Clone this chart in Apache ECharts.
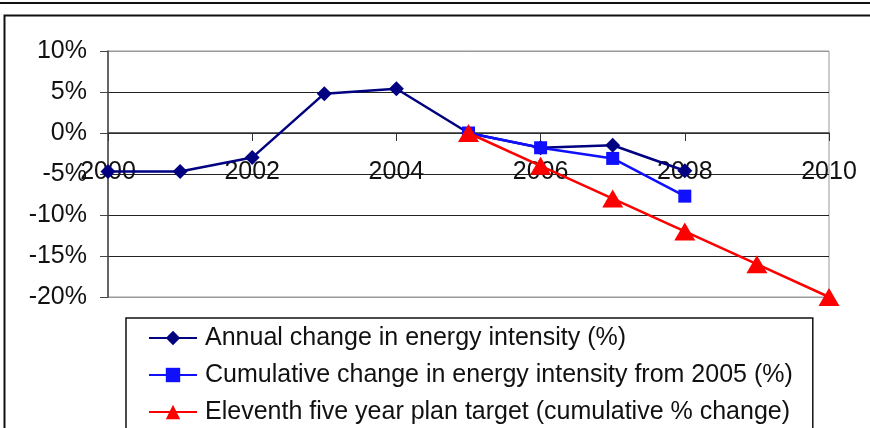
<!DOCTYPE html>
<html>
<head>
<meta charset="utf-8">
<script src="https://cdn.jsdelivr.net/npm/echarts@6/dist/echarts.min.js"></script>
<style>
html,body{margin:0;padding:0;background:#fff;}
#chart{width:870px;height:428px;}
</style>
</head>
<body>
<div id="chart"></div>
<script>
const years = [2000, 2001, 2002, 2003, 2004, 2005, 2006, 2007, 2008, 2009, 2010];
const annualChange = [-4.7, -4.7, -3.0, 4.8, 5.4, 0.0, -1.8, -1.5, -4.6];
const cumulativeYears = [2005, 2006, 2007, 2008];
const cumulativeChange = [0.0, -1.8, -3.1, -7.7];
const targetYears = [2005, 2006, 2007, 2008, 2009, 2010];
const targetChange = [0, -4, -8, -12, -16, -20];
const seriesNames = [
  'Annual change in energy intensity (%)',
  'Cumulative change in energy intensity from 2005 (%)',
  'Eleventh five year plan target (cumulative % change)'
];

const font = '"Liberation Sans", Arial, sans-serif';
const chart = echarts.init(document.getElementById('chart'), null, {renderer: 'canvas'});
chart.setOption({
  animation: false,
  backgroundColor: '#fff',
  textStyle: {fontFamily: font},
  graphic: [
    {type: 'line', shape: {x1: 0, y1: 3, x2: 870, y2: 3}, style: {stroke: '#111', lineWidth: 2}},
    {type: 'polyline', shape: {points: [[4.5, 428], [4.5, 15.5], [870, 15.5]]}, style: {stroke: '#111', lineWidth: 2, fill: null}}
  ],
  grid: {left: 108, right: 41, top: 51, bottom: 131, show: true, borderColor: '#999', borderWidth: 1, containLabel: false},
  xAxis: {
    type: 'value', min: 2000, max: 2010, interval: 2,
    axisLine: {show: true, onZero: true, lineStyle: {color: '#333', width: 1.5}},
    axisTick: {show: true, length: 8, lineStyle: {color: '#333'}},
    axisLabel: {color: '#111', fontSize: 25, margin: -137, fontFamily: font, formatter: v => String(v)},
    splitLine: {show: false}
  },
  yAxis: {
    type: 'value', min: -20, max: 10, interval: 5,
    axisLine: {show: true, lineStyle: {color: '#444', width: 1.5}},
    axisTick: {show: true, length: 8, lineStyle: {color: '#444'}},
    axisLabel: {color: '#111', fontSize: 25, margin: 21, fontFamily: font, formatter: '{value}%'},
    splitLine: {show: true, lineStyle: {color: ['#999', '#222', '#222', '#222', '#222', '#222', '#999'], width: 1.2}}
  },
  legend: {
    orient: 'vertical', left: 126, top: 318, height: 300,
    padding: [7, 20, 8, 22],
    itemWidth: 48, itemHeight: 18, itemGap: 11,
    borderColor: '#111', borderWidth: 1.5,
    textStyle: {fontSize: 25, color: '#111', fontFamily: font, lineHeight: 26, padding: [0, 0, 0, 3]},
    data: seriesNames
  },
  series: [
    {
      name: seriesNames[0], type: 'line',
      data: annualChange.map((v, i) => [years[i], v]),
      symbol: 'diamond', symbolSize: 15,
      lineStyle: {color: '#000080', width: 2.5},
      itemStyle: {color: '#000080'}, z: 2
    },
    {
      name: seriesNames[1], type: 'line',
      data: cumulativeChange.map((v, i) => [cumulativeYears[i], v]),
      symbol: 'rect', symbolSize: 13,
      lineStyle: {color: '#1010ff', width: 2.5},
      itemStyle: {color: '#1010ff'}, z: 3
    },
    {
      name: seriesNames[2], type: 'line',
      data: targetChange.map((v, i) => [targetYears[i], v]),
      symbol: 'triangle', symbolSize: [21, 18],
      lineStyle: {color: '#ff0000', width: 2.5},
      itemStyle: {color: '#ff0000'}, z: 4
    }
  ]
});
</script>
</body>
</html>
